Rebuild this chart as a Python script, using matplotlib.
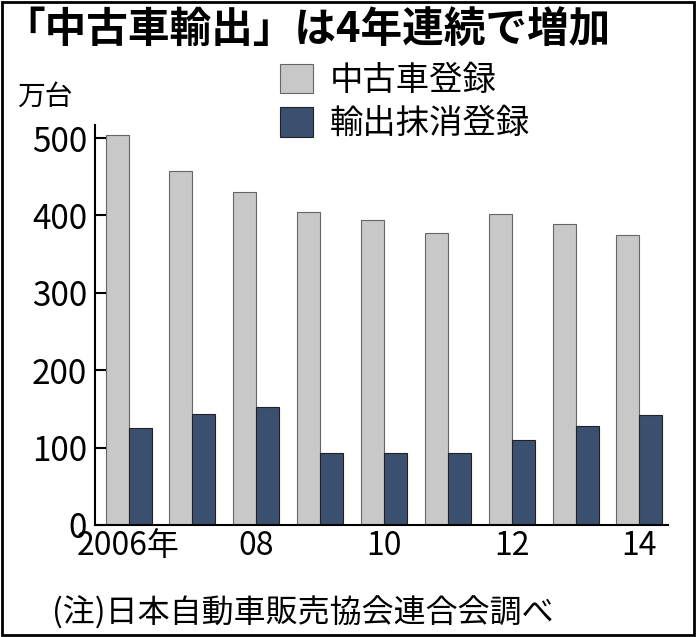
import matplotlib
matplotlib.use("Agg")
import matplotlib.pyplot as plt
import numpy as np
from matplotlib.patches import Rectangle

plt.rcParams["font.family"] = "Noto Sans CJK JP"

years = [2006, 2007, 2008, 2009, 2010, 2011, 2012, 2013, 2014]
xlabels = ["2006年", "", "08", "", "10", "", "12", "", "14"]
used = [504, 457, 430, 404, 394, 377, 402, 389, 375]
export = [125, 143, 152, 93, 93, 93, 110, 128, 142]
yticks = [0, 100, 200, 300, 400, 500]

fig = plt.figure(figsize=(6.96, 6.37), dpi=100)
fig.patches.append(Rectangle((0.003, 0.003), 0.994, 0.994, transform=fig.transFigure,
                             fill=False, edgecolor="black", linewidth=2))
ax = fig.add_axes([0.137, 0.176, 0.823, 0.628])
x = np.arange(len(years))
w = 0.36
ax.bar(x - w/2, used, w, color="#c8c8c8", edgecolor="#666666", linewidth=0.8, label="中古車登録")
ax.bar(x + w/2, export, w, color="#3b4f6e", edgecolor="#222222", linewidth=0.8, label="輸出抹消登録")
ax.set_ylim(0, 517)
ax.set_xlim(-0.52, 8.45)
ax.set_yticks(yticks)
ax.set_yticklabels([str(v) for v in yticks], fontsize=24)
ax.set_xticks(x)
ax.set_xticklabels(xlabels, fontsize=23)
ax.tick_params(axis="y", direction="in", length=8, width=1.5, pad=6)
ax.tick_params(axis="x", length=0, pad=4)
for s in ["top", "right"]:
    ax.spines[s].set_visible(False)
ax.spines["left"].set_linewidth(1.5)
ax.spines["bottom"].set_linewidth(1.5)
ax.legend(loc="upper left", bbox_to_anchor=(0.27, 1.23), frameon=False, fontsize=24,
          handlelength=1.0, handleheight=1.0, labelspacing=0.25, handletextpad=0.5)
fig.text(0.005, 0.92, "「中古車輸出」は4年連続で増加", fontsize=30, fontweight="bold", va="bottom")
fig.text(0.025, 0.835, "万台", fontsize=20)
fig.text(0.075, 0.022, "(注)日本自動車販売協会連合会調べ", fontsize=23)
fig.savefig("out.png", dpi=100)
